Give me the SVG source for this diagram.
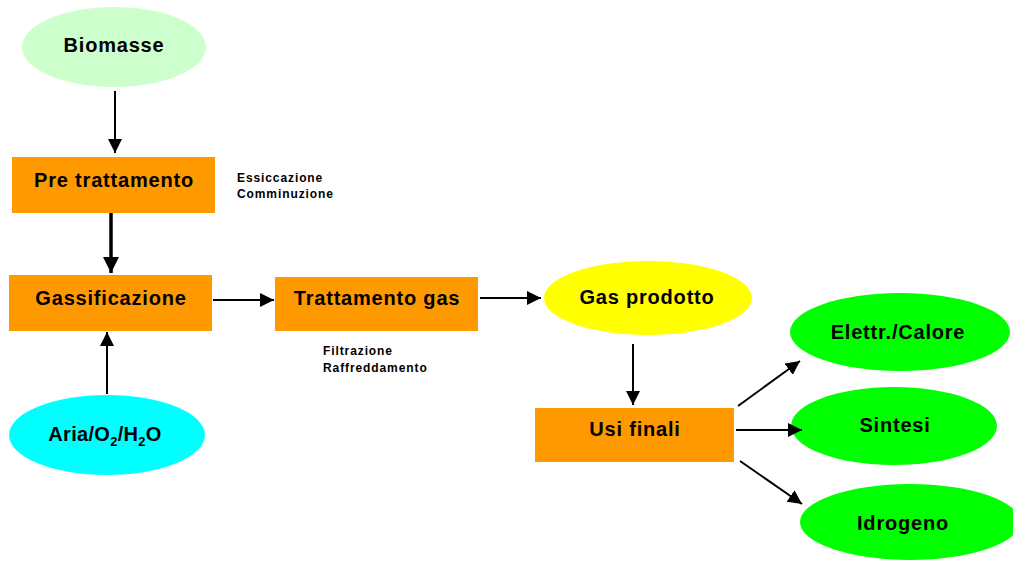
<svg xmlns="http://www.w3.org/2000/svg" width="1013" height="561" viewBox="0 0 1013 561">
<defs>
<style>
.lbl{font-family:"Liberation Sans",Arial,sans-serif;font-weight:bold;font-size:20px;letter-spacing:0.8px;text-anchor:middle;fill:#000}
.note{font-family:"Liberation Sans",Arial,sans-serif;font-weight:bold;font-size:12px;letter-spacing:0.9px;fill:#000}
.box{fill:#FF9900;stroke:none}
.conn{stroke:#000;stroke-width:2;fill:none;marker-end:url(#ah)}
</style>
<marker id="ah" markerUnits="userSpaceOnUse" markerWidth="16" markerHeight="14" refX="14" refY="7" orient="auto">
<path d="M0,0 L14,7 L0,14 Z" fill="#000"/>
</marker>
<marker id="ahb" markerUnits="userSpaceOnUse" markerWidth="18" markerHeight="16" refX="16" refY="8" orient="auto">
<path d="M0,0 L16,8 L0,16 Z" fill="#000"/>
</marker>
</defs>
<rect width="1013" height="561" fill="#fff"/>
<g id="biomasse">
<ellipse cx="114" cy="47" rx="92" ry="40" fill="#CCFFCC"/>
<text class="lbl" x="114" y="52">Biomasse</text>
</g>
<g id="pretrattamento">
<rect class="box" x="12" y="157" width="203" height="56"/>
<text class="lbl" x="114" y="187">Pre trattamento</text>
</g>
<g id="note-pretrattamento">
<text class="note" x="237" y="182">Essiccazione</text>
<text class="note" x="237" y="198">Comminuzione</text>
</g>
<g id="gassificazione">
<rect class="box" x="9" y="275" width="203" height="56"/>
<text class="lbl" x="111" y="305">Gassificazione</text>
</g>
<g id="aria">
<ellipse cx="107" cy="435" rx="98" ry="40" fill="#00FFFF"/>
<text class="lbl" x="105" y="441" style="letter-spacing:0.3px">Aria/O<tspan font-size="13" dy="5">2</tspan><tspan dy="-5">/H</tspan><tspan font-size="13" dy="5">2</tspan><tspan dy="-5">O</tspan></text>
</g>
<g id="trattamento">
<rect class="box" x="275" y="277" width="203" height="54"/>
<text class="lbl" x="377" y="305">Trattamento gas</text>
</g>
<g id="note-trattamento">
<text class="note" x="323" y="355">Filtrazione</text>
<text class="note" x="323" y="372">Raffreddamento</text>
</g>
<g id="gasprodotto">
<ellipse cx="648" cy="298" rx="104" ry="37" fill="#FFFF00"/>
<text class="lbl" x="647" y="304">Gas prodotto</text>
</g>
<g id="usifinali">
<rect class="box" x="535" y="408" width="199" height="54"/>
<text class="lbl" x="635" y="436">Usi finali</text>
</g>
<g id="elettr">
<ellipse cx="900" cy="332" rx="110" ry="39" fill="#00FF00"/>
<text class="lbl" x="898" y="339">Elettr./Calore</text>
</g>
<g id="sintesi">
<ellipse cx="894" cy="426" rx="103" ry="39" fill="#00FF00"/>
<text class="lbl" x="895" y="432">Sintesi</text>
</g>
<g id="idrogeno">
<ellipse cx="910" cy="522" rx="110" ry="38" fill="#00FF00"/>
<text class="lbl" x="903" y="530">Idrogeno</text>
</g>
<g id="connectors">
<line class="conn" x1="115" y1="91" x2="115" y2="153"/>
<line class="conn" x1="111" y1="213" x2="111" y2="273" style="stroke-width:3.5;marker-end:url(#ahb)"/>
<line class="conn" x1="107" y1="394" x2="107" y2="332"/>
<line class="conn" x1="213" y1="300" x2="274" y2="300"/>
<line class="conn" x1="480" y1="298" x2="541" y2="298"/>
<line class="conn" x1="633" y1="344" x2="633" y2="405"/>
<line class="conn" x1="738" y1="406" x2="800" y2="361"/>
<line class="conn" x1="736" y1="430" x2="802" y2="430"/>
<line class="conn" x1="740" y1="461" x2="802" y2="504"/>
</g>
</svg>
